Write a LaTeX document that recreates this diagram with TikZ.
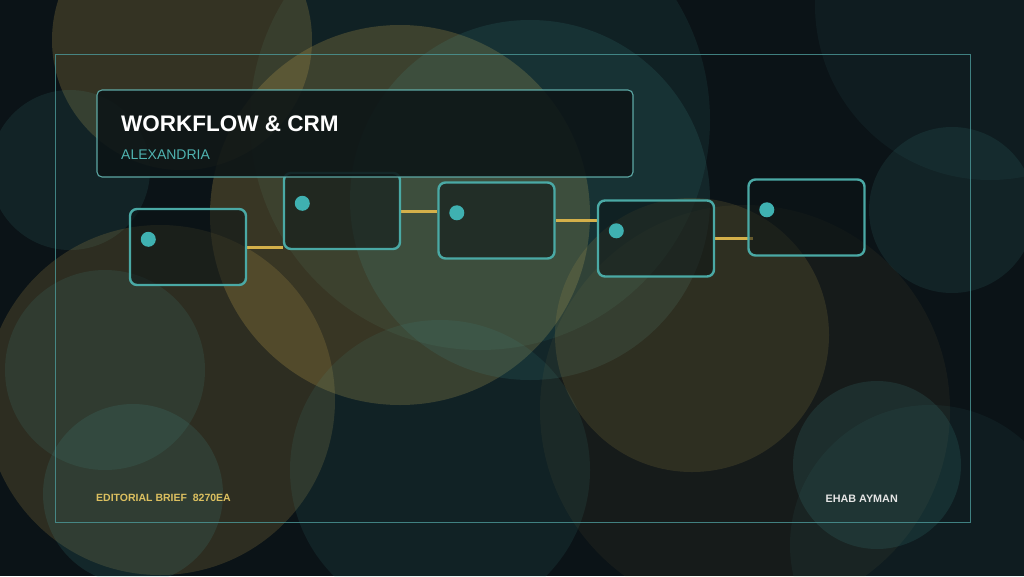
\documentclass[tikz,border=0pt]{standalone}
\usepackage{fontspec}
\setmainfont{Liberation Sans}
\definecolor{bgc}{HTML}{0B1317}
\definecolor{goldc}{HTML}{C9A850}
\definecolor{tealc}{HTML}{459E9A}
\definecolor{framec}{HTML}{4C9A9A}
\definecolor{boxc}{HTML}{4AA9A5}
\definecolor{dotc}{HTML}{3FB1B1}
\definecolor{linkc}{HTML}{D4B04A}
\definecolor{subc}{HTML}{4FB3B0}
\definecolor{edc}{HTML}{DCC060}
\definecolor{boxfill}{HTML}{0C1416}
\pgfdeclarelayer{bubbles}
\pgfdeclarelayer{links}
\pgfsetlayers{bubbles,links,main}
\tikzset{
  gbub/.style={fill=goldc,fill opacity=#1},
  tbub/.style={fill=tealc,fill opacity=#1},
  stepbox/.style={draw=boxc,line width=2.4pt,rounded corners=7pt,fill=boxfill,fill opacity=0.55,minimum width=116pt,minimum height=76pt,inner sep=0pt},
  stepdot/.style={circle,fill=dotc,minimum size=15pt,inner sep=0pt},
  link/.style={draw=linkc,line width=3pt},
  titlebox/.style={draw=boxc!85!white,line width=1.1pt,rounded corners=5pt,fill=boxfill,fill opacity=0.88,draw opacity=0.9,minimum width=536pt,minimum height=87pt,inner sep=0pt},
}
\begin{document}
\begin{tikzpicture}[x=1pt,y=-1pt]
\useasboundingbox (0,0) rectangle (1024,576);
\begin{pgfonlayer}{bubbles}
\fill[bgc] (0,0) rectangle (1024,576);
\begin{scope}
\clip (0,0) rectangle (1024,576);
\fill[tbub=0.10] (480,120) circle (230);
\fill[gbub=0.22] (182,40) circle (130);
\fill[tbub=0.12] (70,170) circle (80);
\fill[gbub=0.24] (400,215) circle (190);
\fill[tbub=0.14] (530,200) circle (180);
\fill[gbub=0.18] (160,400) circle (175);
\fill[tbub=0.13] (105,370) circle (100);
\fill[tbub=0.15] (133,494) circle (90);
\fill[tbub=0.11] (440,470) circle (150);
\fill[gbub=0.14] (692,335) circle (137);
\fill[gbub=0.06] (745,410) circle (205);
\fill[tbub=0.12] (952,210) circle (83);
\fill[tbub=0.07] (990,5) circle (175);
\fill[tbub=0.15] (877,465) circle (84);
\fill[tbub=0.07] (930,545) circle (140);
\end{scope}
\draw[framec,line width=1pt,draw opacity=0.8] (55,54) rectangle (970,522);
\end{pgfonlayer}
% steps
\node[stepbox] (n1) at (188,247) {};
\node[stepbox] (n2) at (342,211) {};
\node[stepbox] (n3) at (496.5,220.5) {};
\node[stepbox] (n4) at (656,238.5) {};
\node[stepbox] (n5) at (806.5,217.5) {};
\begin{pgfonlayer}{links}
\path[link] (n1.east) -- (n2.west |- n1.east);
\path[link] (n2.east) -- (n3.west |- n2.east);
\path[link] (n3.east) -- (n4.west |- n3.east);
\path[link] (n4.east) -- ([xshift=6pt]n5.west |- n4.east);
\end{pgfonlayer}
\node[stepdot] (d1) at ([shift={(19.5,31.5)}]n1.north west) {};
\node[stepdot] (d2) at ([shift={(19.5,31.5)}]n2.north west) {};
\node[stepdot] (d3) at ([shift={(19.5,31.5)}]n3.north west) {};
\node[stepdot] (d4) at ([shift={(19.5,31.5)}]n4.north west) {};
\node[stepdot] (d5) at ([shift={(19.5,31.5)}]n5.north west) {};
% title
\node[titlebox] (title) at (365,133.5) {};
\node[anchor=base west,inner sep=0pt,text=white,font=\bfseries\fontsize{22.5}{26}\selectfont] (t1) at (121,131) {WORKFLOW \& CRM};
\node[anchor=base west,inner sep=0pt,text=subc,font=\fontsize{14}{16}\selectfont] (t2) at (121,159) {ALEXANDRIA};
\node[anchor=base west,inner sep=0pt,text=edc,font=\bfseries\fontsize{10.5}{12}\selectfont] (ed) at (96,501) {EDITORIAL BRIEF\ \ 8270EA};
\node[anchor=base east,inner sep=0pt,text=white!90!black,font=\bfseries\fontsize{10.8}{12}\selectfont] (au) at (898,502) {EHAB AYMAN};
\end{tikzpicture}
\end{document}
